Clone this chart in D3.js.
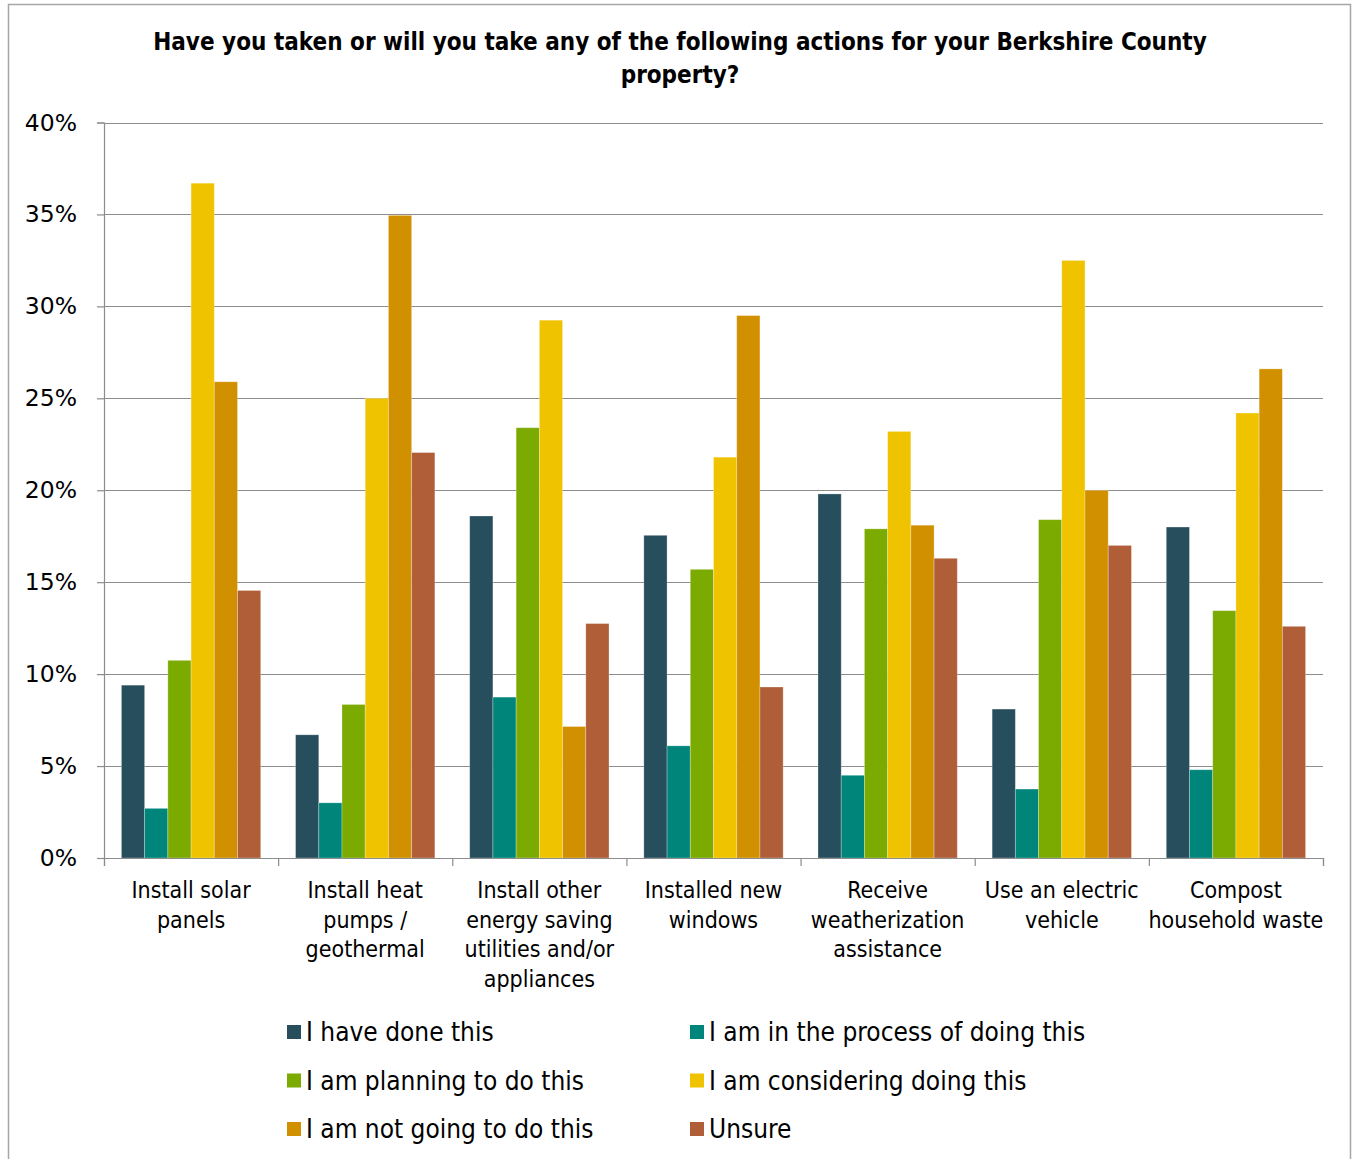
<!DOCTYPE html>
<html>
<head>
<meta charset="utf-8">
<script src="https://cdn.jsdelivr.net/npm/d3@7"></script>
<style>
  body { margin: 0; background: #fff; }
  text { font-family: "DejaVu Sans Condensed", "DejaVu Sans", sans-serif; }
</style>
</head>
<body>
<svg></svg>
<script>
var width = 1354;
var height = 1159;

var categories = [
  ['Install solar', 'panels'],
  ['Install heat', 'pumps /', 'geothermal'],
  ['Install other', 'energy saving', 'utilities and/or', 'appliances'],
  ['Installed new', 'windows'],
  ['Receive', 'weatherization', 'assistance'],
  ['Use an electric', 'vehicle'],
  ['Compost', 'household waste']
];
var seriesNames = ['I have done this', 'I am in the process of doing this', 'I am planning to do this',
                   'I am considering doing this', 'I am not going to do this', 'Unsure'];
var seriesColors = ['#264e5c', '#00857a', '#7baa00', '#f0c300', '#d19000', '#b05e38'];

// one array per series, values in % (one per category)
var haveDone    = [9.4, 6.7, 18.6, 17.55, 19.8, 8.1, 18.0];
var inProcess   = [2.7, 3.0, 8.75, 6.1, 4.5, 3.75, 4.8];
var planning    = [10.75, 8.35, 23.4, 15.7, 17.9, 18.4, 13.45];
var considering = [36.7, 25.0, 29.25, 21.8, 23.2, 32.5, 24.2];
var notGoing    = [25.9, 34.95, 7.15, 29.5, 18.1, 20.0, 26.6];
var unsure      = [14.55, 22.05, 12.75, 9.3, 16.3, 17.0, 12.6];
var seriesValues = [haveDone, inProcess, planning, considering, notGoing, unsure];

var yTicks = [0, 5, 10, 15, 20, 25, 30, 35, 40];

var plotLeft = 104, plotRight = 1323, plotTop = 122.5, plotBottom = 858;

var svg = d3.select('svg')
    .attr('width', width)
    .attr('height', height);

// outer frame
svg.append('rect')
    .attr('x', 8.5).attr('y', 4.5)
    .attr('width', 1342).attr('height', 1170)
    .attr('fill', 'none')
    .attr('stroke', '#a6a6a6')
    .attr('stroke-width', 1.5);

var xScale = d3.scaleBand()
    .domain(d3.range(categories.length))
    .range([plotLeft, plotRight])
    .paddingInner(0)
    .paddingOuter(0);

var yScale = d3.scaleLinear()
    .domain([0, 40])
    .range([plotBottom, plotTop]);

var innerScale = d3.scaleBand()
    .domain(d3.range(seriesNames.length))
    .range([0, xScale.bandwidth()])
    .paddingOuter(0.75)
    .paddingInner(0);

// gridlines
svg.append('g')
  .selectAll('line')
    .data(yTicks.filter(d => d > 0))
    .enter()
  .append('line')
    .attr('x1', plotLeft)
    .attr('x2', plotRight)
    .attr('y1', d => Math.round(yScale(d)) + 0.5)
    .attr('y2', d => Math.round(yScale(d)) + 0.5)
    .attr('stroke', '#8c8c8c')
    .attr('stroke-width', 1.2);

// bars
svg.append('g')
  .selectAll('g')
    .data(seriesValues)
    .enter()
  .append('g')
    .attr('fill', (d, i) => seriesColors[i])
  .selectAll('rect')
    .data((vals, si) => vals.map((v, ci) => ({ s: si, c: ci, v: v })))
    .enter()
  .append('rect')
    .attr('x', d => xScale(d.c) + innerScale(d.s))
    .attr('width', innerScale.bandwidth())
    .attr('y', d => yScale(d.v))
    .attr('height', d => plotBottom - yScale(d.v))
    .attr('stroke', '#ffffff')
    .attr('stroke-opacity', 0.35)
    .attr('stroke-width', 0.8);

// y axis
var yAxis = d3.axisLeft(yScale)
    .tickValues(yTicks)
    .tickSize(7)
    .tickPadding(20)
    .tickFormat(d => d + '%');

var yG = svg.append('g')
    .attr('transform', 'translate(' + plotLeft + ',0)')
    .call(yAxis);
yG.select('.domain').attr('stroke', '#8c8c8c').attr('stroke-width', 1.2);
yG.selectAll('.tick line').attr('stroke', '#8c8c8c').attr('stroke-width', 1.2);
yG.selectAll('.tick text')
    .attr('fill', '#000')
    .style('font-family', '"DejaVu Sans", sans-serif')
    .style('font-size', '23.5px');

// x axis
var xAxis = d3.axisBottom(d3.scaleLinear().domain([0, categories.length]).range([plotLeft, plotRight]))
    .tickValues(d3.range(categories.length + 1))
    .tickSize(8)
    .tickFormat('');
var xG = svg.append('g')
    .attr('transform', 'translate(0,' + plotBottom + ')')
    .call(xAxis);
xG.select('.domain').attr('stroke', '#8c8c8c').attr('stroke-width', 1.2);
xG.selectAll('.tick line').attr('stroke', '#8c8c8c').attr('stroke-width', 1.2);

// category labels
svg.append('g')
  .selectAll('text')
    .data(categories)
    .enter()
  .append('text')
    .attr('x', (d, i) => xScale(i) + xScale.bandwidth() / 2)
    .attr('y', 898)
    .style('text-anchor', 'middle')
    .style('font-size', '23px')
    .attr('fill', '#000')
  .selectAll('tspan')
    .data(d => d)
    .enter()
  .append('tspan')
    .attr('x', function () { return this.parentNode.getAttribute('x'); })
    .attr('dy', (d, i) => i === 0 ? 0 : 29.5)
    .text(d => d);

// title
var title = svg.append('text')
    .attr('x', 680)
    .attr('y', 50)
    .style('text-anchor', 'middle')
    .style('font-size', '24px')
    .style('font-weight', 'bold');
title.append('tspan').attr('x', 680).attr('dy', 0)
    .text('Have you taken or will you take any of the following actions for your Berkshire County');
title.append('tspan').attr('x', 680).attr('dy', 33)
    .text('property?');

// legend
var legend = svg.append('g')
  .selectAll('g')
    .data(seriesNames)
    .enter()
  .append('g')
    .attr('transform', (d, i) => 'translate(' + (i % 2 === 0 ? 287 : 690) + ',' + (1032 + Math.floor(i / 2) * 48.5) + ')');

legend.append('rect')
    .attr('x', 0)
    .attr('y', -7)
    .attr('width', 14)
    .attr('height', 14)
    .attr('fill', (d, i) => seriesColors[i]);

legend.append('text')
    .attr('x', 19)
    .attr('y', 9)
    .style('font-size', '26px')
    .attr('fill', '#000')
    .text(d => d);
</script>
</body>
</html>
